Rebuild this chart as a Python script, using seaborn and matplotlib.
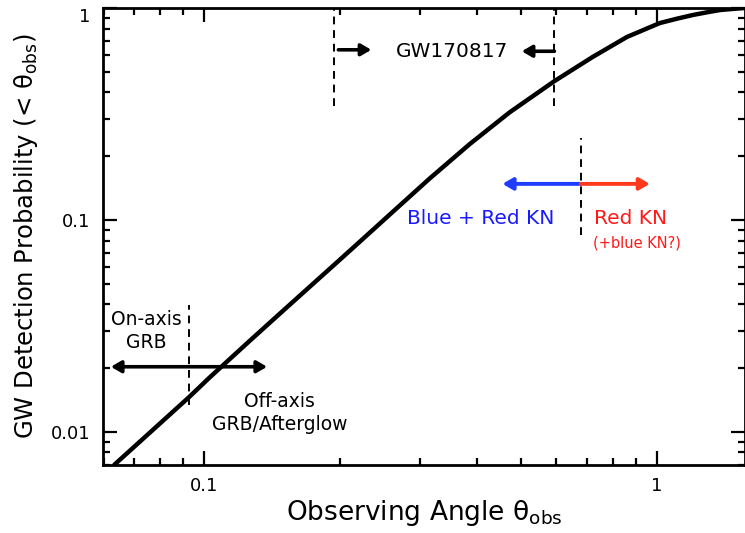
import numpy as np
import pandas as pd
import matplotlib
matplotlib.use("Agg")
import matplotlib.pyplot as plt
import seaborn as sns
from matplotlib.ticker import LogLocator, NullFormatter, FixedFormatter, FixedLocator

# curve: observing angle (rad) vs cumulative GW detection probability
theta_obs = [0.0633, 0.0926, 0.1026, 0.1258, 0.1466, 0.199, 0.220, 0.268, 0.315,
             0.386, 0.473, 0.594, 0.721, 0.859, 1.015, 1.107, 1.202, 1.29, 1.378,
             1.472, 1.566]
prob_det = [0.0070, 0.0146, 0.0180, 0.0268, 0.0360, 0.0647, 0.0785, 0.115, 0.157,
            0.228, 0.322, 0.452, 0.587, 0.730, 0.849, 0.890, 0.927, 0.954, 0.978,
            0.990, 1.0]

x_ticks = [0.1, 1]
x_tick_labels = ["0.1", "1"]
y_ticks = [0.01, 0.1, 1]
y_tick_labels = ["0.01", "0.1", "1"]

# annotation anchors (data coords)
gw_bounds = [0.194, 0.594]
kn_split = 0.679
grb_split = 0.0926

df = pd.DataFrame({"theta": theta_obs, "prob": prob_det})

sns.set_style("ticks", {"axes.edgecolor": "black", "text.color": "black",
                        "axes.labelcolor": "black", "xtick.color": "black",
                        "ytick.color": "black"})
plt.rcParams["font.family"] = ["DejaVu Sans"]

fig = plt.figure(figsize=(7.45, 5.33), dpi=100)
ax = fig.add_axes([0.138, 0.128, 0.862, 0.857])

sns.lineplot(data=df, x="theta", y="prob", ax=ax, color="black", linewidth=3.2)

ax.set_xscale("log")
ax.set_yscale("log")
ax.set_xlim(0.0597, 1.566)
ax.set_ylim(0.007, 1.0)

ax.xaxis.set_major_locator(FixedLocator(x_ticks))
ax.xaxis.set_major_formatter(FixedFormatter(x_tick_labels))
ax.yaxis.set_major_locator(FixedLocator(y_ticks))
ax.yaxis.set_major_formatter(FixedFormatter(y_tick_labels))
ax.xaxis.set_minor_locator(LogLocator(base=10, subs=np.arange(2, 10)))
ax.yaxis.set_minor_locator(LogLocator(base=10, subs=np.arange(2, 10)))
ax.xaxis.set_minor_formatter(NullFormatter())
ax.yaxis.set_minor_formatter(NullFormatter())

ax.tick_params(which="both", direction="in", top=True, right=True, width=1.6,
               labelsize=13, colors="black")
ax.tick_params(which="major", length=10, pad=9)
ax.tick_params(which="minor", length=5)
for sp in ax.spines.values():
    sp.set_linewidth(2)
    sp.set_color("black")

ax.set_xlabel(r"Observing Angle $\mathregular{\theta_{obs}}$", fontsize=19, labelpad=2,
              color="black")
ax.set_ylabel(r"GW Detection Probability (< $\mathregular{\theta_{obs}}$)", fontsize=17.5,
              labelpad=8, color="black")

fig.canvas.draw()
ax.get_yticklabels()[-1].set_verticalalignment("top")

dash = dict(color="black", linestyle=(0, (4, 3)), linewidth=1.4)
head = "-|>,head_length=0.6,head_width=0.35"
arrow_k = dict(arrowstyle=head, color="black", lw=2.6, shrinkA=0, shrinkB=0)

# GW170817 range
for gx in gw_bounds:
    ax.plot([gx, gx], [0.345, 1.0], **dash)
ax.annotate("", xy=(0.234, 0.635), xytext=(gw_bounds[0] * 1.02, 0.635), arrowprops=arrow_k)
ax.annotate("", xy=(0.503, 0.625), xytext=(gw_bounds[1], 0.625), arrowprops=arrow_k)
ax.text(0.352, 0.625, "GW170817", fontsize=14.5, ha="center", va="center", color="black")

# kilonova regimes
ax.plot([kn_split, kn_split], [0.085, 0.244], **dash)
ax.annotate("", xy=(0.456, 0.148), xytext=(kn_split, 0.148),
            arrowprops=dict(arrowstyle=head, color="#1f3dff", lw=2.8, shrinkA=0, shrinkB=0))
ax.annotate("", xy=(0.965, 0.148), xytext=(kn_split, 0.148),
            arrowprops=dict(arrowstyle=head, color="#ff3a1c", lw=2.8, shrinkA=0, shrinkB=0))
ax.text(0.409, 0.102, "Blue + Red KN", fontsize=14.5, color="#1a1aff", ha="center", va="center")
ax.text(0.726, 0.102, "Red KN", fontsize=14.5, color="#ff1a1a", ha="left", va="center")
ax.text(0.722, 0.078, "(+blue KN?)", fontsize=10.5, color="#ff1a1a", ha="left", va="center")

# GRB regimes
ax.plot([grb_split, grb_split], [0.0134, 0.0397], **dash)
ax.annotate("", xy=(0.0622, 0.0203), xytext=(0.1377, 0.0203),
            arrowprops=dict(arrowstyle="<|-|>,head_length=0.6,head_width=0.35", color="black",
                            lw=2.6, shrinkA=0, shrinkB=0))
ax.text(0.0744, 0.0299, "On-axis\nGRB", fontsize=13.5, ha="center", va="center",
        linespacing=1.3, color="black")
ax.text(0.1466, 0.0123, "Off-axis\nGRB/Afterglow", fontsize=13.5, ha="center", va="center",
        linespacing=1.3, color="black")

fig.savefig("out.png", dpi=100)
